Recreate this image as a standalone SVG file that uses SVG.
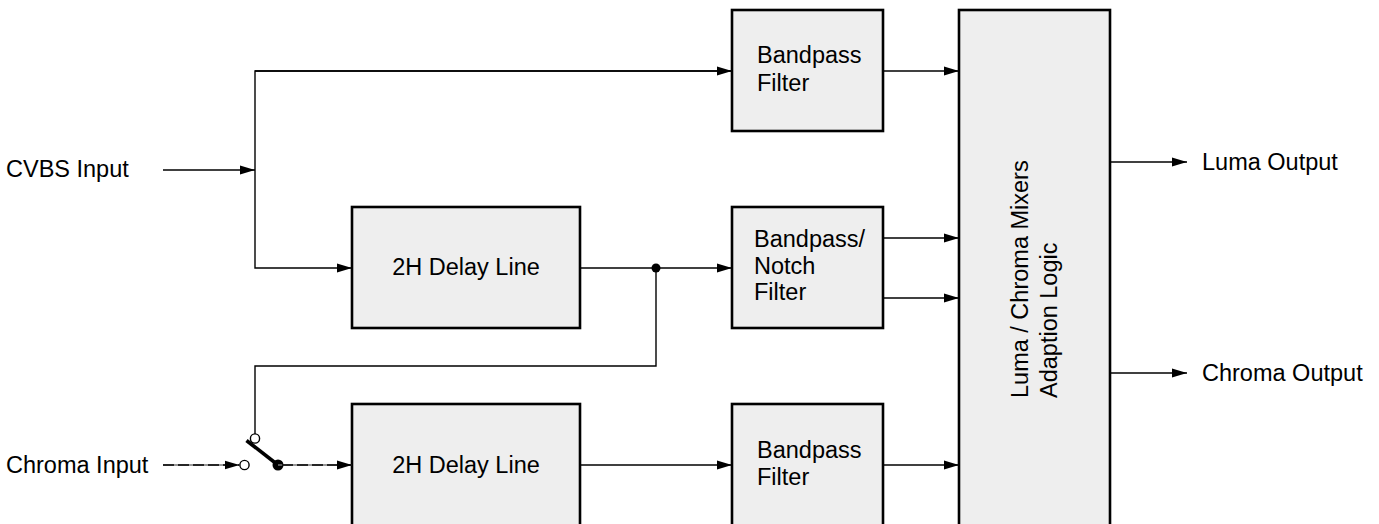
<svg xmlns="http://www.w3.org/2000/svg" width="1379" height="524" viewBox="0 0 1379 524">
<defs>
<marker id="arr" viewBox="0 0 15 10" refX="15" refY="5" markerWidth="15" markerHeight="10" markerUnits="userSpaceOnUse" orient="auto">
<path d="M0,0.5 L15,5 L0,9.5 Z" fill="#000"/>
</marker>
<style>
.box{fill:#eeeeee;stroke:#000;stroke-width:2.6}
.t{font-family:"Liberation Sans",Arial,sans-serif;font-size:23.5px;fill:#000}
.ln{fill:none;stroke:#000;stroke-width:1.4}
.dsh{fill:none;stroke:#000;stroke-width:1.6;stroke-dasharray:11,4}
.dshbg{fill:none;stroke:#777;stroke-width:1.4}
</style>
</defs>
<rect width="1379" height="524" fill="#fff"/>

<g id="labels">
<text class="t" x="6" y="177">CVBS Input</text>
<text class="t" x="6" y="473">Chroma Input</text>
<text class="t" x="1202" y="170">Luma Output</text>
<text class="t" x="1202" y="381">Chroma Output</text>
</g>

<g id="bp-top">
<rect class="box" x="732" y="10" width="151" height="121"/>
<text class="t" x="757" y="63">Bandpass</text>
<text class="t" x="757" y="91">Filter</text>
</g>
<g id="bp-notch">
<rect class="box" x="732" y="207" width="151" height="121"/>
<text class="t" x="754" y="247">Bandpass/</text>
<text class="t" x="754" y="274">Notch</text>
<text class="t" x="754" y="300">Filter</text>
</g>
<g id="bp-bottom">
<rect class="box" x="732" y="404" width="151" height="130"/>
<text class="t" x="757" y="458">Bandpass</text>
<text class="t" x="757" y="485">Filter</text>
</g>
<g id="delay-top">
<rect class="box" x="352" y="207" width="228" height="121"/>
<text class="t" x="466" y="275" text-anchor="middle">2H Delay Line</text>
</g>
<g id="delay-bottom">
<rect class="box" x="352" y="404" width="228" height="130"/>
<text class="t" x="466" y="473" text-anchor="middle">2H Delay Line</text>
</g>
<g id="mixer">
<rect class="box" x="959" y="10" width="151" height="524"/>
<text class="t" transform="translate(1028,398) rotate(-90)">Luma / Chroma Mixers</text>
<text class="t" transform="translate(1057,398) rotate(-90)">Adaption Logic</text>
</g>

<g id="switch">
<circle cx="244.5" cy="465" r="4.6" fill="#fff" stroke="#000" stroke-width="1.4"/>
<circle cx="255" cy="438.5" r="4.6" fill="#fff" stroke="#000" stroke-width="1.4"/>
<line x1="246.5" y1="440.5" x2="278" y2="465" stroke="#000" stroke-width="3.6"/>
<circle cx="278" cy="465" r="5.5" fill="#000"/>
</g>

<g id="connectors">
<line class="ln" x1="163" y1="170" x2="255" y2="170" marker-end="url(#arr)"/>
<polyline class="ln" points="732,71 255,71 255,268 352,268" marker-end="url(#arr)"/>
<line class="ln" x1="255" y1="71" x2="732" y2="71" marker-end="url(#arr)"/>
<line class="ln" x1="580" y1="268" x2="732" y2="268" marker-end="url(#arr)"/>
<circle cx="656" cy="268" r="4.5" fill="#000"/>
<polyline class="ln" points="656,268 656,366 255,366 255,434"/>
<line class="dshbg" x1="163" y1="465" x2="239.5" y2="465"/>
<line class="dsh" x1="163" y1="465" x2="239.5" y2="465" marker-end="url(#arr)"/>
<line class="dshbg" x1="278" y1="465" x2="352" y2="465"/>
<line class="dsh" x1="282" y1="465" x2="352" y2="465" marker-end="url(#arr)"/>
<line class="ln" x1="580" y1="465" x2="732" y2="465" marker-end="url(#arr)"/>
<line class="ln" x1="883" y1="71" x2="959" y2="71" marker-end="url(#arr)"/>
<line class="ln" x1="883" y1="238" x2="959" y2="238" marker-end="url(#arr)"/>
<line class="ln" x1="883" y1="298" x2="959" y2="298" marker-end="url(#arr)"/>
<line class="ln" x1="883" y1="465" x2="959" y2="465" marker-end="url(#arr)"/>
<line class="ln" x1="1110" y1="162" x2="1187" y2="162" marker-end="url(#arr)"/>
<line class="ln" x1="1110" y1="373" x2="1187" y2="373" marker-end="url(#arr)"/>
</g>
</svg>
